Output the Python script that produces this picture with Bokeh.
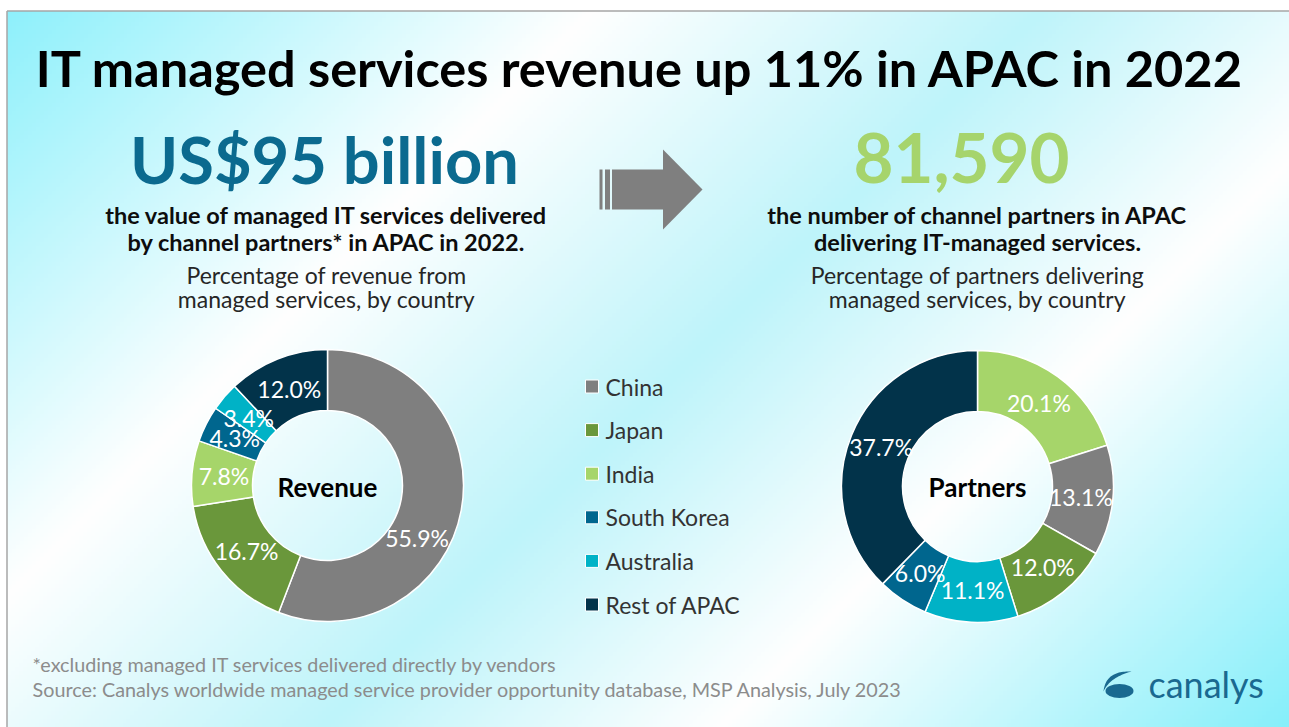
import numpy as np
from bokeh.plotting import figure
from bokeh.models import Range1d, ColumnDataSource
from bokeh.core.properties import value
from bokeh.embed import file_html
from bokeh.resources import INLINE

# ---------------- data ----------------
countries = ["China", "Japan", "India", "South Korea", "Australia", "Rest of APAC"]
country_colors = ["#7F7F7F", "#6A973B", "#A6D56A", "#00668E", "#00B2C6", "#02334A"]

revenue_countries = ["China", "Japan", "India", "South Korea", "Australia", "Rest of APAC"]
revenue_share = [55.9, 16.7, 7.8, 4.3, 3.4, 12.0]

partner_countries = ["India", "China", "Japan", "Australia", "South Korea", "Rest of APAC"]
partner_share = [20.1, 13.1, 12.0, 11.1, 6.0, 37.7]

title_text = "IT managed services revenue up 11% in APAC in 2022"
left_big = "US$95 billion"
left_sub = ["the value of managed IT services delivered", "by channel partners* in APAC in 2022."]
left_desc = ["Percentage of revenue from", "managed services, by country"]
left_center = "Revenue"
right_big = "81,590"
right_sub = ["the number of channel partners in APAC", "delivering IT-managed services."]
right_desc = ["Percentage of partners delivering", "managed services, by country"]
right_center = "Partners"
footnotes = ["*excluding managed IT services delivered directly by vendors",
             "Source:  Canalys worldwide managed service provider opportunity  database, MSP Analysis, July 2023"]
logo_text = "canalys"

# ---------------- figure (data units = page pixels) ----------------
W, H = 1289, 727
PAGE_H = 727


def Y(py):
    return PAGE_H - py


p = figure(width=W, height=H, output_backend="svg", toolbar_location=None,
           x_range=Range1d(0, W), y_range=Range1d(0, H),
           x_axis_type=None, y_axis_type=None, min_border=0)
p.grid.visible = False
p.outline_line_color = None
p.background_fill_color = "white"
p.border_fill_color = "white"

FONT = value("Lato")

# ---------------- gradient background ----------------
left_px, top_px = 6.5, 10.5
gw, gh = 322, 180
xs = np.linspace(left_px, W, gw)
ys = np.linspace(H, top_px, gh)  # row 0 at bottom
XX, YY = np.meshgrid(xs, ys)
S = XX + YY
stop_s = [0, 600, 1050, 1450, 2016]
stop_c = [(139, 240, 251), (255, 255, 255), (190, 244, 250), (255, 255, 255), (134, 239, 250)]
img = np.empty((gh, gw), dtype=np.uint32)
view = img.view(dtype=np.uint8).reshape((gh, gw, 4))
for k in range(3):
    view[:, :, k] = np.interp(S, stop_s, [c[k] for c in stop_c]).astype(np.uint8)
view[:, :, 3] = 255
p.image_rgba(image=[img], x=left_px, y=0, dw=W - left_px, dh=H - top_px)

# frame lines
p.line([left_px, W], [Y(top_px), Y(top_px)], line_color="#A6A6A6", line_width=1.5)
p.line([left_px, left_px], [Y(top_px), 0], line_color="#A6A6A6", line_width=1.5)

# ---------------- arrow ----------------
arrow_col = "#7F7F7F"
p.quad(left=[599, 604.5, 611.5], right=[602, 609.5, 663],
       top=[Y(169)] * 3, bottom=[Y(209)] * 3, fill_color=arrow_col, line_color=None)
p.patch([662.5, 702, 662.5], [Y(149), Y(189), Y(229)], fill_color=arrow_col, line_color=None)

# ---------------- texts ----------------
def txt(x, base_py, s, size, color="black", bold=False, align="center"):
    # place by baseline: convert to a 'middle' anchor (cap centre)
    yc = base_py - 0.36 * size
    p.text(x=[x], y=[Y(yc)], text=[s], text_font=FONT, text_font_size=f"{size}px",
           text_font_style="bold" if bold else "normal", text_color=color,
           text_align=align, text_baseline="middle")


txt(640, 85, title_text, 50.5, bold=True)

blue = "#0B6A8F"
green = "#A6D46C"
txt(324, 182, left_big, 65, color=blue, bold=True)
txt(961, 182, right_big, 69, color=green, bold=True)

sub_base = [223, 250]
desc_base = [283, 307]
for i in range(2):
    txt(326, sub_base[i], left_sub[i], 23.5, color="#0D0D0D", bold=True)
    txt(977, sub_base[i], right_sub[i], 23.5, color="#0D0D0D", bold=True)
    txt(326, desc_base[i], left_desc[i], 23, color="#262626")
    txt(977, desc_base[i], right_desc[i], 23, color="#262626")

# ---------------- donuts ----------------
color_of = dict(zip(countries, country_colors))
R_IN, R_OUT, R_LAB = 75, 136, 104


def donut(cx, cy, names, shares, label_shift_deg):
    n = len(shares)
    fr = np.array(shares) / sum(shares)
    c1 = np.cumsum(fr)
    c0 = c1 - fr
    start = np.pi / 2 - 2 * np.pi * c1
    end = np.pi / 2 - 2 * np.pi * c0
    src = ColumnDataSource(dict(x=[cx] * n, y=[Y(cy)] * n, start=start, end=end,
                                color=[color_of[nm] for nm in names]))
    p.annular_wedge(x="x", y="y", inner_radius=R_IN, outer_radius=R_OUT,
                    start_angle="start", end_angle="end", fill_color="color",
                    line_color="white", line_width=1.5, source=src)
    mid = (start + end) / 2 - np.radians(label_shift_deg)
    lx = cx + R_LAB * np.cos(mid)
    ly = Y(cy) + R_LAB * np.sin(mid)
    p.text(x=lx, y=ly, text=[f"{s:.1f}%" for s in shares], text_font=FONT,
           text_font_size="23px", text_color="white", text_align="center",
           text_baseline="middle")


donut(327, 485, revenue_countries, revenue_share, [20, 0, 0, 0, 0, 0])
donut(977, 486, partner_countries, partner_share, [0, 0, 0, 0, 0, 0])
txt(327, 496, left_center, 26, bold=True)
txt(977, 496, right_center, 26, bold=True)

# ---------------- legend ----------------
leg_y = [Y(386 + i * 43.6) for i in range(len(countries))]
p.rect(x=[591.5] * len(countries), y=leg_y, width=13, height=13,
       fill_color=country_colors, line_color="white", line_width=1)
p.text(x=[605] * len(countries), y=leg_y, text=countries,
       text_font=FONT, text_font_size="23px", text_color="#333333",
       text_align="left", text_baseline="middle")

# ---------------- footnotes ----------------
txt(32, 671, footnotes[0], 19.8, color="#8C8C8C", align="left")
txt(32, 696, footnotes[1], 19.8, color="#8C8C8C", align="left")

# ---------------- logo ----------------
logo_col = "#1A6990"
txt(1148, 696, logo_text, 36, color=logo_col, align="left")
t = np.linspace(0, 1, 30)


def qbez(p0, c, p2):
    return ((1 - t) ** 2)[:, None] * np.array(p0) + (2 * (1 - t) * t)[:, None] * np.array(c) + (t ** 2)[:, None] * np.array(p2)


outer = qbez((1131, 671), (1105, 670), (1103, 691))
inner = qbez((1103, 691), (1109, 677), (1131, 671))
pts = np.vstack([outer, inner])
p.patch(pts[:, 0], PAGE_H - pts[:, 1], fill_color=logo_col, line_color=None)
p.ellipse(x=[1119], y=[Y(690.5)], width=28, height=14, fill_color=logo_col, line_color=None)

open("out.html", "w").write(file_html(p, INLINE))
